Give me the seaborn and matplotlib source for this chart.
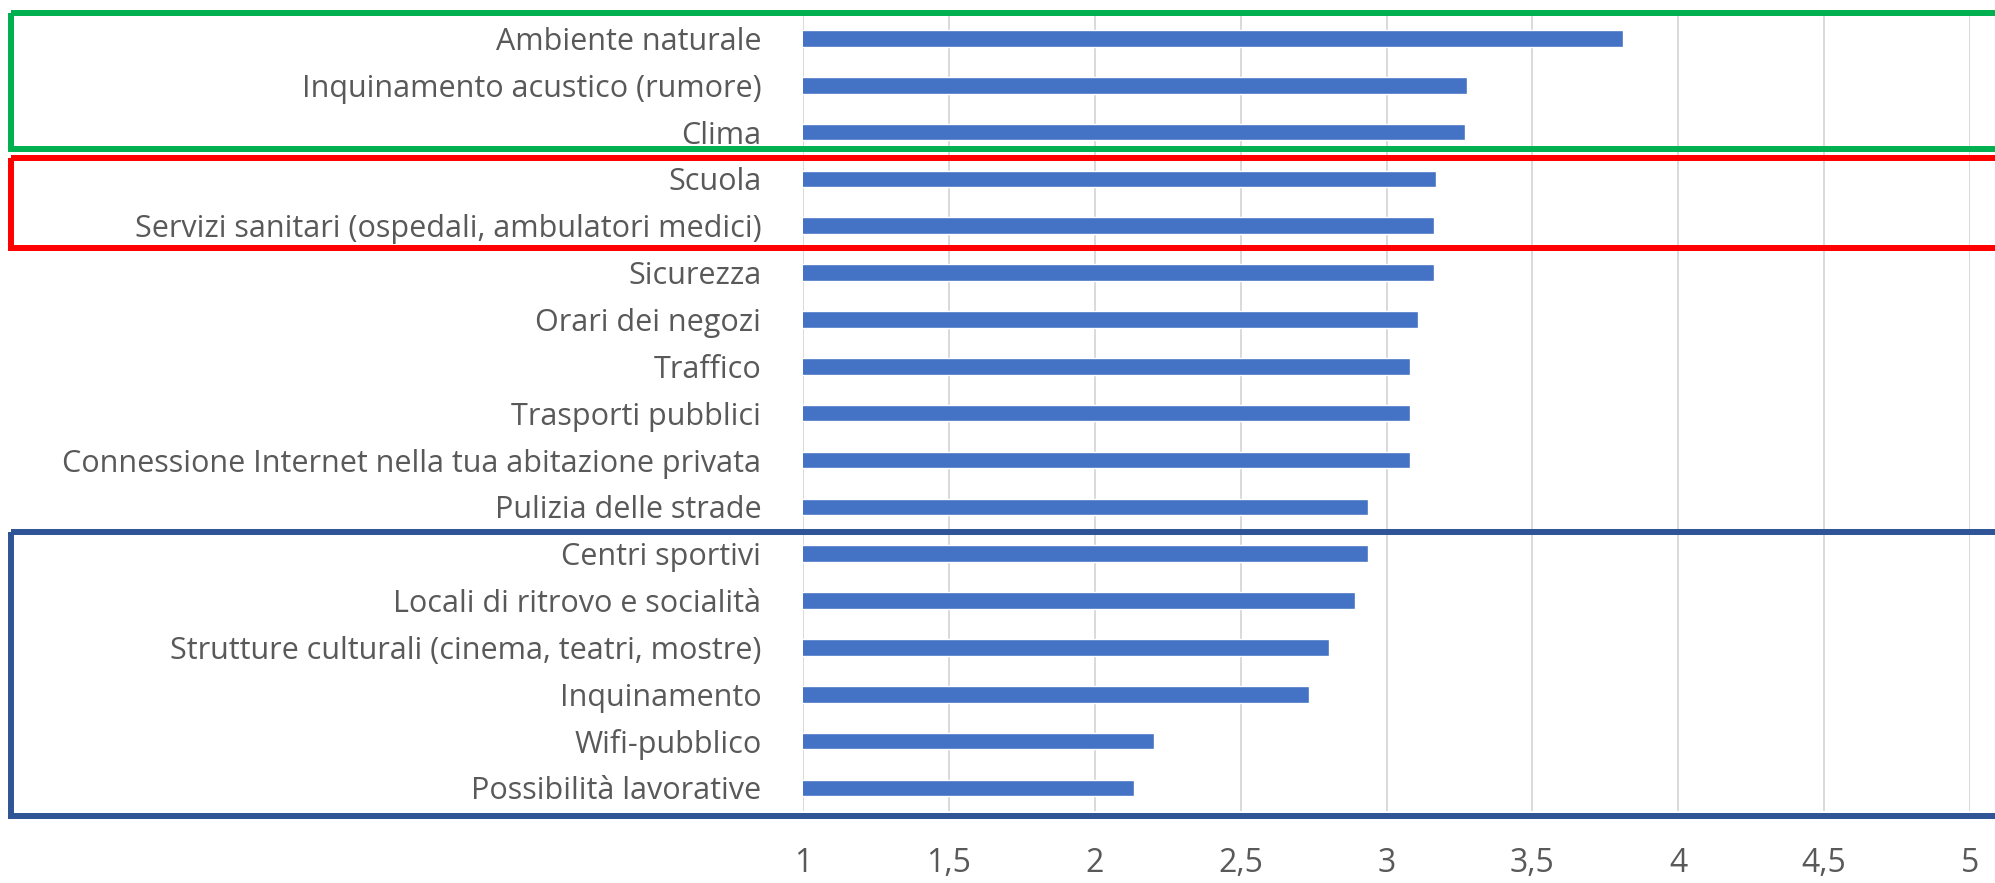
import matplotlib
matplotlib.use("Agg")
import matplotlib.pyplot as plt
import matplotlib.transforms as mtransforms
from matplotlib.patches import Rectangle
import seaborn as sns
import pandas as pd

# data (mean scores, 1-5 scale)
categories = [
    "Ambiente naturale",
    "Inquinamento acustico (rumore)",
    "Clima",
    "Scuola",
    "Servizi sanitari (ospedali, ambulatori medici)",
    "Sicurezza",
    "Orari dei negozi",
    "Traffico",
    "Trasporti pubblici",
    "Connessione Internet nella tua abitazione privata",
    "Pulizia delle strade",
    "Centri sportivi",
    "Locali di ritrovo e socialità",
    "Strutture culturali (cinema, teatri, mostre)",
    "Inquinamento",
    "Wifi-pubblico",
    "Possibilità lavorative",
]
scores = [3.81, 3.275, 3.27, 3.17, 3.163, 3.162, 3.109, 3.082, 3.082, 3.08,
          2.937, 2.935, 2.891, 2.803, 2.736, 2.204, 2.136]
tick_values = [1, 1.5, 2, 2.5, 3, 3.5, 4, 4.5, 5]
tick_labels = ["1", "1,5", "2", "2,5", "3", "3,5", "4", "4,5", "5"]

# highlight boxes: (top, bottom) in category units, colour
boxes = [
    (-0.545, 2.36, "#00B050"),
    (2.555, 4.48, "#FF0000"),
    (10.54, 16.6, "#2F5597"),
]

sns.set_style("white")
plt.rcParams["font.family"] = ["Open Sans", "DejaVu Sans"]

df = pd.DataFrame({"categoria": categories, "punteggio": scores})

fig = plt.figure(figsize=(19.95, 8.83), dpi=100)
ax = fig.add_axes([0.4025, 0.0811, 0.9875 - 0.4025, 0.9831 - 0.0811])

sns.barplot(data=df, x="punteggio", y="categoria", orient="h", color="#4472C4",
            saturation=1, width=0.356, ax=ax)

ax.set_xlim(1, 5)
ax.set_ylim(len(categories) - 0.5, -0.5)
ax.set_xticks(tick_values)
ax.set_xticklabels(tick_labels)
ax.xaxis.grid(True, color="#D9D9D9", linewidth=1.4)
ax.set_axisbelow(True)
for s in ax.spines.values():
    s.set_visible(False)
ax.set_xlabel("")
ax.set_ylabel("")
ax.tick_params(axis="y", length=0, pad=30, labelsize=22, labelcolor="#595959")
ax.tick_params(axis="x", length=0, pad=26, labelsize=23, labelcolor="#595959")

trans = mtransforms.blended_transform_factory(fig.transFigure, ax.transData)
for top, bottom, col in boxes:
    ax.add_patch(Rectangle((0.0055, top), 1.2, bottom - top, transform=trans,
                           fill=False, edgecolor=col, linewidth=4.3, clip_on=False))

fig.savefig("out.png", dpi=100)
plt.close(fig)
